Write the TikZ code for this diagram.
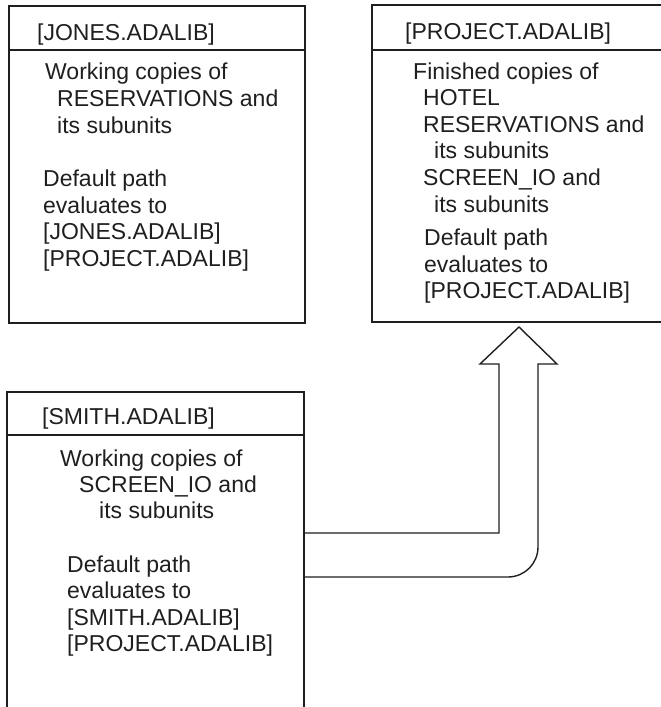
\documentclass[tikz,border=0pt]{standalone}
\usepackage{fontspec}
\setmainfont{Liberation Sans}
\begin{document}
\begin{tikzpicture}[x=1pt,y=-1pt,
    frame/.style={line width=1.5pt,draw=black!88},
    label/.style={anchor=base west,inner sep=0pt,text=black!88,
      font=\fontsize{23}{27}\selectfont},
    blockarrow/.style={line width=1.4pt,draw=black!88,line join=miter}]
\useasboundingbox (0,0) rectangle (661,707);

% Library JONES
\node[frame,rectangle,minimum width=296pt,minimum height=317pt,
      anchor=north west,inner sep=0pt] (jones) at (8,5) {};
\draw[frame] (8,50) -- (304,50);
\node[label] (jh) at (37,40) {[JONES.ADALIB]};
\node[label] (j1) at (45,79) {Working copies of};
\node[label] (j2) at (57,106) {RESERVATIONS and};
\node[label] (j3) at (57,133) {its subunits};
\node[label] (j4) at (43,186) {Default path};
\node[label] (j5) at (43,213) {evaluates to};
\node[label] (j6) at (43,239) {[JONES.ADALIB]};
\node[label] (j7) at (43,266) {[PROJECT.ADALIB]};

% Library PROJECT (runs on past the right edge)
\draw[frame] (661,5) -- (372,5) -- (372,322) -- (661,322);
\draw[frame] (372,50) -- (661,50);
\node[label] (ph) at (405,39) {[PROJECT.ADALIB]};
\node[label] (p1) at (413,79) {Finished copies of};
\node[label] (p2) at (423,105) {HOTEL};
\node[label] (p3) at (423,132) {RESERVATIONS and};
\node[label] (p4) at (434,158) {its subunits};
\node[label] (p5) at (423,185) {SCREEN\_IO and};
\node[label] (p6) at (434,212) {its subunits};
\node[label] (p7) at (424,245) {Default path};
\node[label] (p8) at (424,272) {evaluates to};
\node[label] (p9) at (424,298) {[PROJECT.ADALIB]};

% Library SMITH (runs on past the bottom edge)
\draw[frame] (7,707) -- (7,392) -- (304,392) -- (304,707);
\draw[frame] (7,435) -- (304,435);
\node[label] (sh) at (42,424) {[SMITH.ADALIB]};
\node[label] (s1) at (60,466) {Working copies of};
\node[label] (s2) at (79,492) {SCREEN\_IO and};
\node[label] (s3) at (99,518) {its subunits};
\node[label] (s4) at (67,572) {Default path};
\node[label] (s5) at (67,598) {evaluates to};
\node[label] (s6) at (67,625) {[SMITH.ADALIB]};
\node[label] (s7) at (67,651) {[PROJECT.ADALIB]};

% Block arrow from SMITH up to PROJECT
\coordinate (tip) at (519,327);
\coordinate (inA) at (304,533);
\coordinate (outA) at (304,577);
\draw[blockarrow] (inA) -- (499,533) -- (499,364) -- (480,364) -- (tip)
  -- (557,364) -- (538,364) -- (538,547)
  arc[start angle=0,end angle=90,radius=30] -- (outA);
\end{tikzpicture}
\end{document}
